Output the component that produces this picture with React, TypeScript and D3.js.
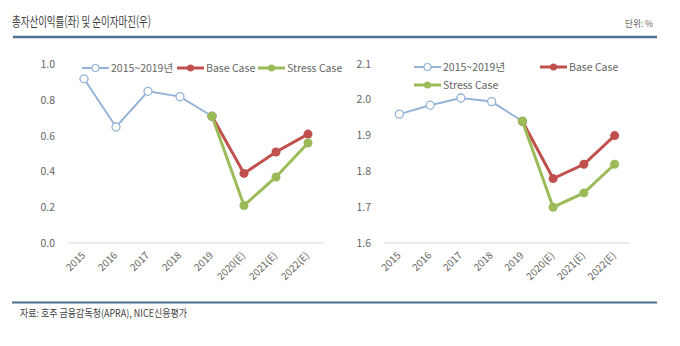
import React from "react";
import * as d3 from "d3";

const categories = ["2015", "2016", "2017", "2018", "2019", "2020(E)", "2021(E)", "2022(E)"];
const roaHist = [0.92, 0.65, 0.85, 0.82, 0.71];
const roaBase = [0.71, 0.39, 0.51, 0.61];
const roaStress = [0.71, 0.21, 0.37, 0.56];
const nimHist = [1.96, 1.985, 2.005, 1.995, 1.94];
const nimBase = [1.94, 1.78, 1.82, 1.9];
const nimStress = [1.94, 1.7, 1.74, 1.82];
const roaTicks = [0, 0.2, 0.4, 0.6, 0.8, 1.0];
const nimTicks = [1.6, 1.7, 1.8, 1.9, 2.0, 2.1];

const BLUE = "#95b3d7";
const RED = "#c0504d";
const GREEN = "#9bbb59";
const GRAY = "#666666";
const FONT = "'Noto Sans CJK KR', 'Open Sans', sans-serif";

type PanelProps = {
  x0: number; x1: number; y0: number; y1: number;
  domain: [number, number]; ticks: number[]; labelX: number;
  hist: number[]; base: number[]; stress: number[];
  legend: { label: string; color: string; open: boolean; x: number; y: number }[];
};

function Panel(p: PanelProps) {
  const x = d3.scalePoint<string>().domain(categories).range([p.x0, p.x1]).padding(0.5);
  const y = d3.scaleLinear().domain(p.domain).range([p.y1, p.y0]);
  const line = d3.line<[string, number]>().x(d => x(d[0])!).y(d => y(d[1]));
  const histPts: [string, number][] = p.hist.map((v, i) => [categories[i], v]);
  const basePts: [string, number][] = p.base.map((v, i) => [categories[i + 4], v]);
  const stressPts: [string, number][] = p.stress.map((v, i) => [categories[i + 4], v]);
  return (
    <g>
      <line x1={p.x0} x2={p.x1} y1={y(p.domain[0])} y2={y(p.domain[0])} stroke="#d9d9d9" strokeWidth={1.2} />
      {p.ticks.map(t => (
        <text key={t} x={p.labelX} y={y(t)} dy="0.35em" textAnchor="end" fontSize={10.5} fill={GRAY} fontFamily={FONT}>
          {t.toFixed(1)}
        </text>
      ))}
      {categories.map(c => (
        <text key={c} transform={`translate(${x(c)! + 2},${p.y1 + 13}) rotate(-45)`} textAnchor="end" fontSize={10} fill={GRAY} fontFamily={FONT}>
          {c}
        </text>
      ))}
      <path d={line(histPts)!} fill="none" stroke={BLUE} strokeWidth={2} />
      {histPts.map(d => (
        <circle key={d[0]} cx={x(d[0])} cy={y(d[1])} r={4} fill="#fff" stroke={BLUE} strokeWidth={1.3} />
      ))}
      <path d={line(basePts)!} fill="none" stroke={RED} strokeWidth={3} />
      {basePts.map(d => (
        <circle key={d[0]} cx={x(d[0])} cy={y(d[1])} r={4.5} fill={RED} />
      ))}
      <path d={line(stressPts)!} fill="none" stroke={GREEN} strokeWidth={3} />
      {stressPts.map(d => (
        <circle key={d[0]} cx={x(d[0])} cy={y(d[1])} r={4.5} fill={GREEN} />
      ))}
      {p.legend.map(l => (
        <g key={l.label}>
          <line x1={l.x} x2={l.x + 27} y1={l.y} y2={l.y} stroke={l.color} strokeWidth={l.open ? 2 : 3} />
          <circle cx={l.x + 13.5} cy={l.y} r={3.5} fill={l.open ? "#fff" : l.color} stroke={l.color} strokeWidth={l.open ? 1.2 : 0} />
          <text x={l.x + 29} y={l.y} dy="0.35em" fontSize={10.5} fill={GRAY} fontFamily={FONT}>{l.label}</text>
        </g>
      ))}
    </g>
  );
}

export default function App() {
  return (
    <svg width={680} height={346} style={{ position: "absolute", left: 0, top: 0, background: "#fff" }}>
      <rect width={680} height={346} fill="#fff" />
      <text x={12} y={26} fontSize={13} fill="#404040" fontFamily={FONT} textLength={139} lengthAdjust="spacingAndGlyphs">
        총자산이익률(좌) 및 순이자마진(우)
      </text>
      <text x={625} y={27} fontSize={9.5} fill={GRAY} fontFamily={FONT} textLength={28} lengthAdjust="spacingAndGlyphs">
        단위: %
      </text>
      <line x1={13} x2={657} y1={37} y2={37} stroke="#4d7291" strokeWidth={2.5} />
      <Panel
        x0={68} x1={324} y0={64.5} y1={243} domain={[0, 1]} ticks={roaTicks} labelX={55}
        hist={roaHist} base={roaBase} stress={roaStress}
        legend={[
          { label: "2015~2019년", color: BLUE, open: true, x: 82, y: 68 },
          { label: "Base Case", color: RED, open: false, x: 177, y: 68 },
          { label: "Stress Case", color: GREEN, open: false, x: 258, y: 68 },
        ]}
      />
      <Panel
        x0={384} x1={630} y0={64} y1={243} domain={[1.6, 2.1]} ticks={nimTicks} labelX={371}
        hist={nimHist} base={nimBase} stress={nimStress}
        legend={[
          { label: "2015~2019년", color: BLUE, open: true, x: 414, y: 67 },
          { label: "Base Case", color: RED, open: false, x: 540, y: 67 },
          { label: "Stress Case", color: GREEN, open: false, x: 414, y: 85 },
        ]}
      />
      <line x1={12} x2={657} y1={302.5} y2={302.5} stroke="#4d7291" strokeWidth={2} />
      <text x={20} y={317} fontSize={10} fill="#404040" fontFamily={FONT} textLength={167} lengthAdjust="spacingAndGlyphs">
        자료: 호주 금융감독청(APRA), NICE신용평가
      </text>
    </svg>
  );
}
